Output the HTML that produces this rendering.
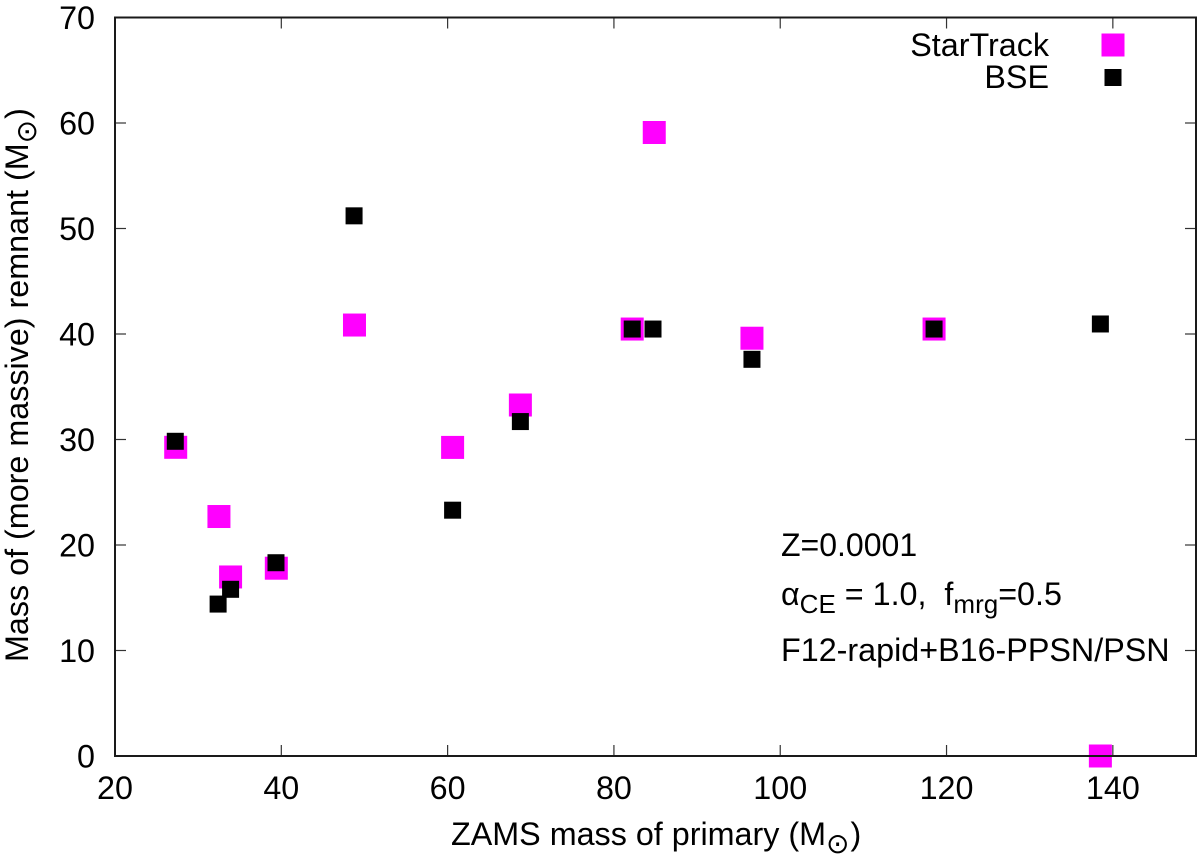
<!DOCTYPE html>
<html lang="en">
<head>
<meta charset="utf-8">
<title>Remnant mass vs ZAMS mass</title>
<style>
html,body{margin:0;padding:0;background:#fff;}
svg{display:block;}
text{font-family:"Liberation Sans",sans-serif;font-size:32.3px;fill:#000;}
</style>
</head>
<body>
<svg id="chart" xmlns="http://www.w3.org/2000/svg" width="1200" height="864" viewBox="0 0 1200 864">
  <rect x="0" y="0" width="1200" height="864" fill="#fff"/>
  <g id="marks-startrack"></g>
  <g id="marks-bse"></g>
  <g id="ticks"></g>
  <rect x="115" y="17.5" width="1081" height="738.5" fill="none" stroke="#1a1a1a" stroke-width="2"/>
  <g id="tick-labels"></g>

  <text x="451" y="845">ZAMS mass of primary (M<tspan dy="8" style="font-size:28px;font-family:'DejaVu Sans',sans-serif">⊙</tspan><tspan dy="-8" dx="1">)</tspan></text>
  <text transform="translate(28,662) rotate(-90)">Mass of (more massive) remnant (M<tspan dy="8" style="font-size:28px;font-family:'DejaVu Sans',sans-serif">⊙</tspan><tspan dy="-8" dx="1">)</tspan></text>

  <text x="1049" y="56" text-anchor="end">StarTrack</text>
  <text x="1049" y="88" text-anchor="end">BSE</text>
  <rect x="1101.5" y="33.5" width="23" height="23" fill="#ff00ff"/>
  <rect x="1104.5" y="69" width="17" height="17" fill="#000"/>

  <text x="781" y="556" style="font-size:32px">Z=0.0001</text>
  <text x="781" y="605" xml:space="preserve">α<tspan dy="8" style="font-size:26px">CE</tspan><tspan dy="-8"> = 1.0,  f</tspan><tspan dy="8" style="font-size:26px">mrg</tspan><tspan dy="-8">=0.5</tspan></text>
  <text x="781" y="661">F12-rapid+B16-PPSN/PSN</text>
</svg>
<script>
const xTickValues = [20, 40, 60, 80, 100, 120, 140];
const yTickValues = [0, 10, 20, 30, 40, 50, 60, 70];
const startrackMass = [27.3, 32.5, 33.9, 39.4, 48.8, 60.6, 68.75, 82.2, 84.85, 96.6, 118.5, 138.5];
const startrackRemnant = [29.26, 22.7, 16.97, 17.8, 40.85, 29.25, 33.27, 40.47, 59.1, 39.6, 40.47, 0];
const bseMass = [27.25, 32.4, 33.9, 39.36, 48.75, 60.6, 68.75, 82.2, 84.7, 96.6, 118.5, 138.5];
const bseRemnant = [29.83, 14.4, 15.8, 18.32, 51.2, 23.3, 31.7, 40.47, 40.47, 37.6, 40.47, 40.95];

const SVG_NS = 'http://www.w3.org/2000/svg';
const plotLeft = 115, plotRight = 1196, plotTop = 17.5, plotBottom = 756;
const xMin = 20, xMax = 150, yMin = 0, yMax = 70;
function xScale(v) { return plotLeft + (v - xMin) / (xMax - xMin) * (plotRight - plotLeft); }
function yScale(v) { return plotBottom - (v - yMin) / (yMax - yMin) * (plotBottom - plotTop); }

function drawSquare(parent, cx, cy, size, color) {
  const r = document.createElementNS(SVG_NS, 'rect');
  r.setAttribute('x', cx - size / 2);
  r.setAttribute('y', cy - size / 2);
  r.setAttribute('width', size);
  r.setAttribute('height', size);
  r.setAttribute('fill', color);
  parent.appendChild(r);
  return r;
}
function drawTick(parent, x1, y1, x2, y2) {
  const l = document.createElementNS(SVG_NS, 'line');
  l.setAttribute('x1', x1);
  l.setAttribute('y1', y1);
  l.setAttribute('x2', x2);
  l.setAttribute('y2', y2);
  l.setAttribute('stroke', '#333');
  l.setAttribute('stroke-width', '1.2');
  parent.appendChild(l);
  return l;
}
function drawLabel(parent, x, y, anchor, str) {
  const t = document.createElementNS(SVG_NS, 'text');
  t.setAttribute('x', x);
  t.setAttribute('y', y);
  t.setAttribute('text-anchor', anchor);
  t.textContent = str;
  parent.appendChild(t);
  return t;
}

const gStar = document.getElementById('marks-startrack');
const gBse = document.getElementById('marks-bse');
const gTicks = document.getElementById('ticks');
const gLabels = document.getElementById('tick-labels');

startrackMass.forEach(function (m, i) {
  const el = drawSquare(gStar, xScale(m), yScale(startrackRemnant[i]), 23, '#ff00ff');
  
  
});
bseMass.forEach(function (m, i) {
  const el = drawSquare(gBse, xScale(m), yScale(bseRemnant[i]), 17, '#000');
  
  
});

xTickValues.forEach(function (v) {
  const x = xScale(v);
  const bottomTick = drawTick(gTicks, x, plotBottom, x, plotBottom - 11);
  
  
  const topTick = drawTick(gTicks, x, plotTop, x, plotTop + 11);
  
  
  const label = drawLabel(gLabels, x, 799, 'middle', String(v));
  
  
});
yTickValues.forEach(function (v) {
  const y = yScale(v);
  const leftTick = drawTick(gTicks, plotLeft, y, plotLeft + 11, y);
  
  
  const rightTick = drawTick(gTicks, plotRight, y, plotRight - 11, y);
  
  
  const label = drawLabel(gLabels, 95, y + 11.5, 'end', String(v));
  
  
});
</script>
</body>
</html>
